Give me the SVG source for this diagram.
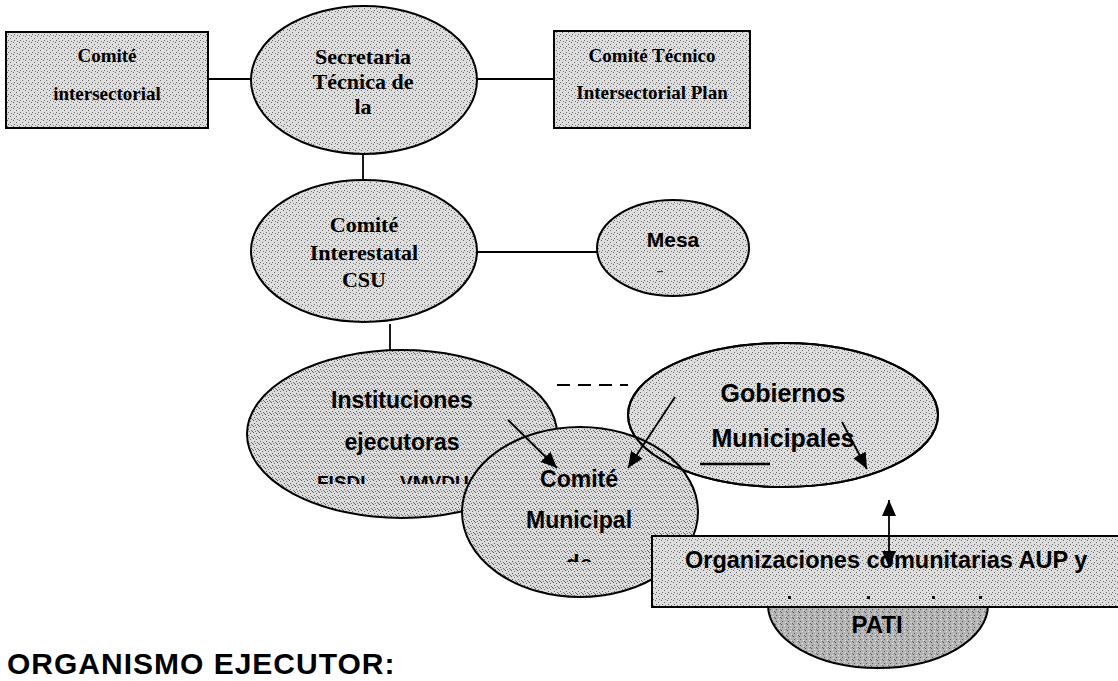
<svg xmlns="http://www.w3.org/2000/svg" width="1118" height="681" viewBox="0 0 1118 681">
<style>
.sh{stroke:#000;stroke-width:2}
.ln{stroke:#000;stroke-width:1.8;fill:none}
.serif{font-family:"Liberation Serif","Times New Roman",serif;font-weight:bold;fill:#000;text-anchor:middle}
.sans{font-family:"Liberation Sans",Arial,sans-serif;font-weight:bold;fill:#000;text-anchor:middle}
</style>
<defs>
<pattern id="stL" width="6" height="6" patternUnits="userSpaceOnUse">
<rect width="6" height="6" fill="#dedede"/>
<rect x="1" y="0" width="1" height="1" fill="#666"/>
<rect x="4" y="2" width="1" height="1" fill="#666"/>
<rect x="2" y="4" width="1" height="1" fill="#666"/>
<rect x="5" y="5" width="1" height="1" fill="#777"/>
</pattern>
<pattern id="stM" width="6" height="6" patternUnits="userSpaceOnUse">
<rect width="6" height="6" fill="#dcdcdc"/>
<rect x="1" y="0" width="1" height="1" fill="#555"/>
<rect x="4" y="1" width="1" height="1" fill="#666"/>
<rect x="2" y="3" width="1" height="1" fill="#555"/>
<rect x="5" y="4" width="1" height="1" fill="#666"/>
<rect x="0" y="5" width="1" height="1" fill="#666"/>
<rect x="3" y="5" width="1" height="1" fill="#777"/>
</pattern>
<pattern id="stD" width="6" height="6" patternUnits="userSpaceOnUse">
<rect width="6" height="6" fill="#b4b4b4"/>
<rect x="1" y="0" width="1" height="1" fill="#555"/>
<rect x="4" y="1" width="1" height="1" fill="#e8e8e8"/>
<rect x="2" y="3" width="1" height="1" fill="#555"/>
<rect x="5" y="4" width="1" height="1" fill="#e8e8e8"/>
<rect x="0" y="5" width="1" height="1" fill="#666"/>
</pattern>
<marker id="ah" viewBox="0 0 16 14" refX="16" refY="7" markerUnits="userSpaceOnUse" markerWidth="16" markerHeight="14" orient="auto-start-reverse">
<path d="M0,0 L16,7 L0,14 z" fill="#000"/>
</marker>
<clipPath id="clipFisdl"><rect x="240" y="440" width="300" height="44"/></clipPath>
<clipPath id="clipDe"><rect x="540" y="530" width="80" height="32"/></clipPath>
</defs>
<rect width="1118" height="681" fill="#fff"/>

<g id="comite-intersectorial">
<rect x="6" y="32" width="202" height="96" fill="url(#stL)" class="sh"/>
<text class="serif" x="107" y="62" font-size="19">Comité</text>
<text class="serif" x="107" y="100" font-size="19">intersectorial</text>
</g>

<g id="secretaria-tecnica">
<ellipse cx="364" cy="80" rx="113" ry="74" fill="url(#stL)" class="sh"/>
<text class="serif" x="363" y="64" font-size="22">Secretaria</text>
<text class="serif" x="363" y="89" font-size="22">Técnica de</text>
<text class="serif" x="363" y="114" font-size="22">la</text>
</g>

<g id="comite-tecnico">
<rect x="554" y="31" width="196" height="97" fill="url(#stL)" class="sh"/>
<text class="serif" x="652" y="62" font-size="19">Comité Técnico</text>
<text class="serif" x="652" y="99" font-size="19">Intersectorial Plan</text>
</g>

<g id="comite-interestatal">
<ellipse cx="364" cy="251" rx="113" ry="71" fill="url(#stL)" class="sh"/>
<text class="serif" x="364" y="232" font-size="22">Comité</text>
<text class="serif" x="364" y="260" font-size="22">Interestatal</text>
<text class="serif" x="364" y="287" font-size="22">CSU</text>
</g>

<g id="mesa">
<ellipse cx="673" cy="248" rx="76" ry="48" fill="url(#stL)" class="sh"/>
<text class="sans" x="673" y="247" font-size="21">Mesa</text>
<rect x="657" y="271" width="6" height="1.2" fill="#333"/>
</g>

<g id="instituciones">
<ellipse cx="402" cy="434" rx="155" ry="84" fill="url(#stM)" class="sh"/>
<text class="sans" x="402" y="408" font-size="23">Instituciones</text>
<text class="sans" x="402" y="450" font-size="23">ejecutoras</text>
<text class="sans" font-size="19" clip-path="url(#clipFisdl)" style="text-anchor:start" y="489"><tspan x="317">FISDL</tspan><tspan x="400">VMVDU</tspan></text>
</g>

<g id="gobiernos">
<ellipse cx="783" cy="415" rx="155" ry="72" fill="url(#stL)" class="sh"/>
<text class="sans" x="783" y="402" font-size="25">Gobiernos</text>
<text class="sans" x="783" y="447" font-size="25">Municipales</text>
<line x1="700" y1="464" x2="770" y2="464" stroke="#000" stroke-width="2.5"/>
</g>

<g id="comite-municipal">
<ellipse cx="580" cy="512" rx="118" ry="85" fill="url(#stM)" class="sh"/>
<ellipse cx="783" cy="415" rx="155" ry="72" fill="none" class="sh"/>
<text class="sans" x="579" y="487" font-size="23">Comité</text>
<text class="sans" x="579" y="528" font-size="23">Municipal</text>
<text class="sans" x="579" y="572" font-size="23" clip-path="url(#clipDe)">de</text>
</g>

<g id="pati">
<ellipse cx="878" cy="605" rx="110" ry="63" fill="url(#stD)" class="sh"/>
<text class="sans" x="877" y="633" font-size="24" fill="#111">PATI</text>
</g>

<g id="organizaciones">
<rect x="652" y="536" width="480" height="71" fill="url(#stL)" class="sh"/>
<text class="sans" x="685" y="568" font-size="23.5" style="text-anchor:start">Organizaciones comunitarias AUP y</text>
<rect x="788" y="596" width="3" height="3" fill="#111"/>
<rect x="867" y="596" width="3" height="3" fill="#111"/>
<rect x="932" y="596" width="3" height="3" fill="#111"/>
<rect x="979" y="596" width="3" height="3" fill="#111"/>
</g>

<g id="organismo-ejecutor">
<text class="sans" x="7" y="674" font-size="30" letter-spacing="1" style="text-anchor:start">ORGANISMO EJECUTOR:</text>
</g>

<g id="connectors">
<line class="ln" x1="208" y1="79" x2="251" y2="79"/>
<line class="ln" x1="477" y1="79" x2="554" y2="79"/>
<line class="ln" x1="363" y1="154" x2="363" y2="180"/>
<line class="ln" x1="477" y1="252" x2="597" y2="252"/>
<line class="ln" x1="390" y1="324" x2="390" y2="350"/>
<line x1="557" y1="385" x2="628" y2="385" stroke="#000" stroke-width="2" stroke-dasharray="13 8"/>
<line class="ln" x1="508" y1="420" x2="557" y2="468" marker-end="url(#ah)"/>
<line class="ln" x1="675" y1="397" x2="628" y2="468" marker-end="url(#ah)"/>
<line class="ln" x1="842" y1="422" x2="867" y2="469" marker-end="url(#ah)"/>
<line class="ln" x1="889" y1="500" x2="889" y2="567" marker-start="url(#ah)" marker-end="url(#ah)"/>
</g>
</svg>
